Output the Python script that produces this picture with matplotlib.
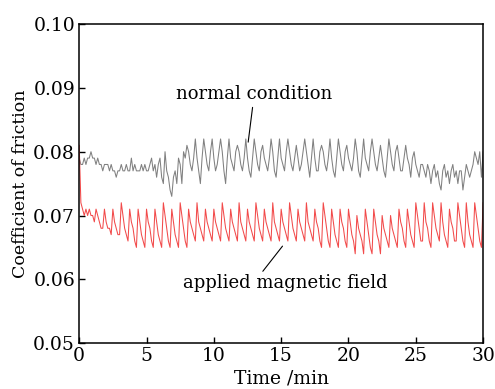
import numpy as np
import matplotlib
matplotlib.use("Agg")
import matplotlib.pyplot as plt

plt.rcParams["font.family"] = ["DejaVu Serif"]

# coefficient of friction, sampled every 0.125 min (0 .. 30 min)
normal = [
    # 0-8 min
    0.079, 0.078, 0.078, 0.079, 0.078, 0.079, 0.079, 0.080, 0.079, 0.079, 0.078, 0.079, 0.078, 0.078, 0.077, 0.078,
    0.078, 0.078, 0.077, 0.078, 0.077, 0.077, 0.076, 0.077, 0.077, 0.078, 0.077, 0.077, 0.078, 0.077, 0.077, 0.079,
    0.077, 0.078, 0.077, 0.077, 0.077, 0.078, 0.077, 0.078, 0.077, 0.077, 0.078, 0.079, 0.077, 0.078, 0.076, 0.078,
    0.079, 0.076, 0.075, 0.080, 0.077, 0.076, 0.074, 0.073, 0.076, 0.077, 0.075, 0.079, 0.078, 0.075, 0.080, 0.079,
    # 8-25.5 min
    0.081, 0.080, 0.078, 0.077, 0.079,
    0.082, 0.079, 0.077, 0.075, 0.079,
    0.082, 0.080, 0.078, 0.077, 0.080,
    0.082, 0.079, 0.077, 0.078, 0.080,
    0.082, 0.080, 0.077, 0.075, 0.079,
    0.082, 0.079, 0.078, 0.077, 0.080,
    0.081, 0.080, 0.078, 0.077, 0.079,
    0.082, 0.079, 0.077, 0.076, 0.079,
    0.082, 0.080, 0.078, 0.077, 0.080,
    0.081, 0.079, 0.078, 0.077, 0.079,
    0.082, 0.080, 0.077, 0.076, 0.079,
    0.082, 0.079, 0.078, 0.077, 0.080,
    0.082, 0.080, 0.078, 0.077, 0.079,
    0.081, 0.079, 0.077, 0.078, 0.080,
    0.082, 0.080, 0.078, 0.076, 0.079,
    0.082, 0.079, 0.077, 0.077, 0.080,
    0.081, 0.080, 0.078, 0.077, 0.079,
    0.082, 0.079, 0.077, 0.076, 0.079,
    0.082, 0.080, 0.078, 0.077, 0.080,
    0.081, 0.079, 0.078, 0.077, 0.079,
    0.082, 0.080, 0.077, 0.076, 0.079,
    0.082, 0.079, 0.078, 0.077, 0.080,
    0.082, 0.080, 0.078, 0.077, 0.079,
    0.081, 0.079, 0.077, 0.076, 0.079,
    0.082, 0.080, 0.078, 0.077, 0.080,
    0.081, 0.079, 0.077, 0.077, 0.079,
    0.081, 0.079, 0.078, 0.076, 0.079,
    0.080, 0.078, 0.077, 0.076, 0.078,
    # 25.5-30 min
    0.078, 0.077, 0.076, 0.078, 0.077, 0.075, 0.077, 0.078, 0.076, 0.077, 0.075, 0.074,
    0.077, 0.078, 0.076, 0.077, 0.075, 0.077, 0.078, 0.076, 0.077, 0.075, 0.077, 0.077,
    0.074, 0.076, 0.078, 0.077, 0.076, 0.077, 0.078, 0.080, 0.079, 0.078, 0.080, 0.076, 0.080,
]

magnetic = [
    # running-in, 0-1.25 min
    0.081, 0.072, 0.071, 0.070, 0.071, 0.070, 0.071, 0.070, 0.070, 0.069,
    # sawtooth, one row per tooth (0.625 min)
    0.071, 0.070, 0.069, 0.068, 0.068,
    0.071, 0.069, 0.068, 0.068, 0.067,
    0.071, 0.069, 0.068, 0.067, 0.067,
    0.072, 0.070, 0.068, 0.067, 0.066,
    0.071, 0.069, 0.068, 0.066, 0.065,
    0.071, 0.069, 0.067, 0.066, 0.065,
    0.071, 0.069, 0.068, 0.066, 0.065,
    0.071, 0.069, 0.067, 0.066, 0.065,
    0.072, 0.070, 0.068, 0.066, 0.065,
    0.071, 0.069, 0.067, 0.066, 0.065,
    0.072, 0.070, 0.068, 0.066, 0.065,
    0.071, 0.069, 0.068, 0.067, 0.066,
    0.072, 0.069, 0.068, 0.067, 0.066,
    0.071, 0.069, 0.068, 0.067, 0.066,
    0.071, 0.069, 0.068, 0.067, 0.066,
    0.072, 0.070, 0.068, 0.067, 0.066,
    0.071, 0.069, 0.068, 0.067, 0.066,
    0.072, 0.069, 0.068, 0.067, 0.066,
    0.071, 0.069, 0.068, 0.067, 0.066,
    0.072, 0.070, 0.068, 0.067, 0.066,
    0.071, 0.069, 0.068, 0.067, 0.066,
    0.072, 0.069, 0.068, 0.067, 0.066,
    0.071, 0.069, 0.068, 0.067, 0.066,
    0.072, 0.070, 0.068, 0.067, 0.066,
    0.071, 0.069, 0.068, 0.067, 0.066,
    0.072, 0.069, 0.068, 0.067, 0.066,
    0.071, 0.069, 0.068, 0.066, 0.065,
    0.072, 0.070, 0.068, 0.066, 0.065,
    0.071, 0.069, 0.067, 0.066, 0.065,
    0.071, 0.069, 0.068, 0.066, 0.065,
    0.071, 0.069, 0.067, 0.066, 0.064,
    0.070, 0.068, 0.067, 0.066, 0.064,
    0.071, 0.069, 0.067, 0.065, 0.064,
    0.071, 0.069, 0.067, 0.066, 0.064,
    0.070, 0.068, 0.067, 0.066, 0.065,
    0.070, 0.068, 0.067, 0.066, 0.065,
    0.071, 0.069, 0.068, 0.066, 0.065,
    0.071, 0.069, 0.067, 0.066, 0.065,
    0.072, 0.070, 0.068, 0.066, 0.066,
    0.072, 0.069, 0.068, 0.066, 0.065,
    0.072, 0.070, 0.068, 0.067, 0.066,
    0.072, 0.069, 0.067, 0.066, 0.065,
    0.071, 0.069, 0.068, 0.066, 0.066,
    0.072, 0.070, 0.068, 0.066, 0.065,
    0.072, 0.069, 0.067, 0.066, 0.065,
    0.072, 0.070, 0.068, 0.066, 0.065,
    # end
    0.072,
]

t_normal = np.linspace(0, 30, len(normal))
t_magnetic = np.linspace(0, 30, len(magnetic))

fig = plt.figure(figsize=(4.95, 3.89), dpi=100)
ax = fig.add_axes([0.16, 0.118, 0.816, 0.82])

ax.plot(t_normal, normal, color="#808080", lw=0.75)
ax.plot(t_magnetic, magnetic, color="#f24a4a", lw=0.75)

ax.set_xlim(0, 30)
ax.set_ylim(0.05, 0.10)
ax.set_xticks([0, 5, 10, 15, 20, 25, 30])
ax.set_yticks([0.05, 0.06, 0.07, 0.08, 0.09, 0.10])
ax.set_yticklabels(["0.05", "0.06", "0.07", "0.08", "0.09", "0.10"])
ax.tick_params(direction="in", labelsize=13.5, length=4, width=1, pad=3)
for s in ax.spines.values():
    s.set_linewidth(1.1)

ax.set_xlabel("Time /min", fontsize=13.5, labelpad=3)
ax.set_ylabel("Coefficient of friction", fontsize=12.5, labelpad=3)

ax.annotate("normal condition", xy=(12.55, 0.0815), xytext=(13.0, 0.0876),
            ha="center", va="bottom", fontsize=13,
            arrowprops=dict(arrowstyle="-", color="black", lw=0.8, shrinkA=1, shrinkB=0))
ax.annotate("applied magnetic field", xy=(15.1, 0.0652), xytext=(15.3, 0.0580),
            ha="center", va="bottom", fontsize=13,
            arrowprops=dict(arrowstyle="-", color="black", lw=0.8, shrinkA=0, shrinkB=0,
                            relpos=(0.38, 1.0)))

fig.savefig("out.png", dpi=100)
